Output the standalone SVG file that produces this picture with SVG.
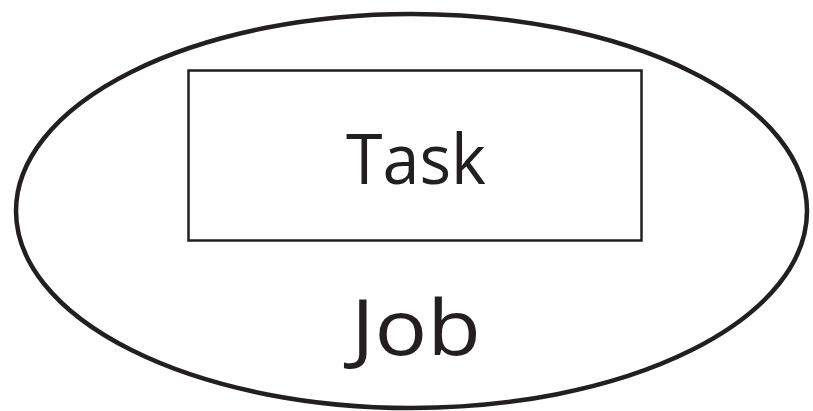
<svg xmlns="http://www.w3.org/2000/svg" width="813" height="411" viewBox="0 0 813 411">
  <style>
    .outline { fill: #ffffff; stroke: #231f20; }
    .label { font-family: "Open Sans", "Noto Sans", "Liberation Sans", sans-serif; fill: #231f20; text-anchor: middle; }
  </style>
  <rect x="0" y="0" width="813" height="411" fill="#ffffff"/>
  <g id="job">
    <ellipse class="outline" cx="411.5" cy="211" rx="395.5" ry="197" stroke-width="4.5"/>
    <text class="label" x="416" y="355" font-size="76" textLength="130" lengthAdjust="spacingAndGlyphs">Job</text>
  </g>
  <g id="task">
    <rect class="outline" x="188.5" y="70.5" width="453" height="170" stroke-width="2.5"/>
    <text class="label" x="416" y="184" font-size="70" textLength="140" lengthAdjust="spacingAndGlyphs">Task</text>
  </g>
  <g id="connectors"/>
</svg>
